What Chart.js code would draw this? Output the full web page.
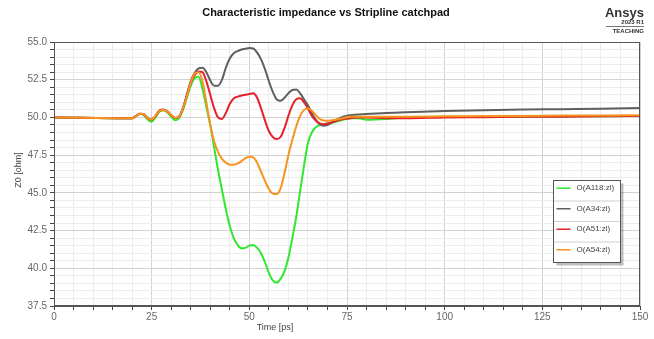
<!DOCTYPE html>
<html>
<head>
<meta charset="UTF-8">
<title>Characteristic impedance vs Stripline catchpad</title>
<script src="https://cdn.jsdelivr.net/npm/chart.js@4.4.0/dist/chart.umd.min.js"></script>
<style>
  html, body { margin: 0; padding: 0; background: #fff; }
  #wrap { width: 654px; height: 339px; position: relative; }
</style>
</head>
<body>
<div id="wrap"><canvas id="chart" width="654" height="339"></canvas></div>
<script>
// time axis [ps]
const timePs = [0, 20, 21, 22, 23, 24, 25, 26, 27, 28, 29, 30, 31, 32, 33, 34, 35,
  36, 37, 38, 39, 40, 41, 42, 43, 44, 45, 46, 47, 48, 49, 50, 51, 52, 53, 54, 55,
  56, 57, 58, 59, 60, 61, 62, 63, 64, 65, 66, 67, 68, 69, 70, 72, 74, 76, 78, 80,
  85, 90, 100, 110, 120, 130, 140, 150];

// Z0 [ohm] per trace
const zA118 = [50.0, 49.95, 50.1, 50.22, 50.15, 49.85, 49.72, 50.0, 50.4, 50.48, 50.35, 50.05, 49.82, 49.95, 50.5, 51.3, 52.1,
  52.6, 52.7, 51.9, 50.7, 49.5, 48.0, 46.5, 45.2, 43.9, 42.8, 42.0, 41.55, 41.32, 41.35, 41.5, 41.55, 41.35, 41.0, 40.4, 39.7,
  39.2, 39.05, 39.3, 39.8, 40.7, 42.0, 43.4, 45.1, 46.8, 48.3, 49.0, 49.35, 49.5, 49.55, 49.6, 49.7, 49.85, 49.95, 49.95, 49.85,
  49.9, 50.0, 50.05, 50.05, 50.05, 50.07, 50.08, 50.1];

const zA34 = [50.0, 49.95, 50.1, 50.25, 50.2, 49.95, 49.85, 50.1, 50.45, 50.52, 50.4, 50.15, 49.97, 50.05, 50.6, 51.5, 52.4,
  52.95, 53.25, 53.3, 53.0, 52.45, 52.1, 52.1, 52.5, 53.3, 53.9, 54.25, 54.4, 54.5, 54.55, 54.6, 54.57, 54.3, 53.85, 53.2, 52.4,
  51.7, 51.2, 51.1, 51.3, 51.6, 51.82, 51.85, 51.6, 51.2, 50.8, 50.3, 49.85, 49.55, 49.45, 49.5, 49.8, 50.05, 50.15, 50.2, 50.22,
  50.3, 50.35, 50.42, 50.48, 50.52, 50.55, 50.58, 50.62];

const zA51 = [50.0, 49.95, 50.1, 50.25, 50.2, 49.95, 49.85, 50.1, 50.45, 50.5, 50.4, 50.15, 49.97, 50.05, 50.6, 51.45, 52.3,
  52.8, 53.05, 53.0, 52.4, 51.5, 50.6, 50.0, 49.9, 50.3, 50.9, 51.25, 51.38, 51.45, 51.5, 51.55, 51.6, 51.3, 50.6, 49.8, 49.1,
  48.7, 48.57, 48.7, 49.3, 50.1, 50.8, 51.2, 51.27, 51.0, 50.6, 50.1, 49.8, 49.6, 49.55, 49.6, 49.75, 49.9, 49.95, 50.0, 50.0,
  49.95, 49.95, 50.0, 50.02, 50.04, 50.05, 50.07, 50.1];

const zA54 = [50.0, 49.95, 50.1, 50.25, 50.2, 49.95, 49.85, 50.1, 50.45, 50.5, 50.4, 50.15, 49.97, 50.05, 50.6, 51.4, 52.3,
  52.9, 53.0, 52.4, 51.0, 49.5, 48.4, 47.7, 47.25, 47.0, 46.87, 46.87, 46.95, 47.1, 47.3, 47.4, 47.35, 47.0, 46.4, 45.8, 45.25,
  44.95, 44.92, 45.3, 46.3, 47.5, 48.5, 49.4, 50.1, 50.5, 50.6, 50.45, 50.15, 49.9, 49.8, 49.78, 49.85, 49.95, 50.05, 50.05, 50.05,
  50.05, 50.05, 50.07, 50.1, 50.1, 50.12, 50.12, 50.15];

const seriesNames = ['O(A118:zl)', 'O(A34:zl)', 'O(A51:zl)', 'O(A54:zl)'];
const seriesColors = ['#2ee82e', '#5f5f5f', '#e4202a', '#f7931e'];
const seriesValues = [zA118, zA34, zA51, zA54];
const drawOrder = [3, 2, 1, 0];

const xTicks = [0, 25, 50, 75, 100, 125, 150];
const yTicks = [37.5, 40.0, 42.5, 45.0, 47.5, 50.0, 52.5, 55.0];

const FONT = '"Liberation Sans", Arial, sans-serif';

const datasets = seriesNames.map((name, i) => ({
  label: name,
  data: timePs.map((t, k) => ({ x: t, y: seriesValues[i][k] })),
  borderColor: seriesColors[i],
  backgroundColor: seriesColors[i],
  borderWidth: 2,
  pointRadius: 0,
  cubicInterpolationMode: 'monotone',
  order: drawOrder[i]
}));

// title, logo, axis titles and legend box
const decorations = {
  id: 'decorations',
  afterDraw(chart) {
    const ctx = chart.ctx;
    const area = chart.chartArea;
    ctx.save();
    ctx.fillStyle = '#111';
    ctx.textAlign = 'center';
    ctx.textBaseline = 'middle';
    ctx.font = 'bold 11px ' + FONT;
    ctx.fillText('Characteristic impedance vs Stripline catchpad', 326, 13);

    // logo
    ctx.textAlign = 'right';
    ctx.font = 'bold 13px ' + FONT;
    ctx.fillStyle = '#333';
    ctx.fillText('Ansys', 644, 13);
    ctx.font = 'bold 6px ' + FONT;
    ctx.fillText('2023 R1', 644, 22);
    ctx.strokeStyle = '#555';
    ctx.lineWidth = 0.8;
    ctx.beginPath();
    ctx.moveTo(606, 26.5);
    ctx.lineTo(644, 26.5);
    ctx.stroke();
    ctx.fillText('TEACHING', 644, 31);

    // axis titles
    ctx.fillStyle = '#444';
    ctx.font = '9px ' + FONT;
    ctx.textAlign = 'center';
    ctx.fillText('Time [ps]', 275, 328);
    ctx.translate(19, 170);
    ctx.rotate(-Math.PI / 2);
    ctx.fillText('Z0 [ohm]', 0, 0);
    ctx.setTransform(1, 0, 0, 1, 0, 0);

    // legend
    const lx = 553.5, ly = 180.5, lw = 67, rowH = 20.5;
    const lh = rowH * seriesNames.length;
    ctx.fillStyle = 'rgba(0,0,0,0.25)';
    ctx.fillRect(lx + 3, ly + 3, lw, lh);
    ctx.fillStyle = '#fff';
    ctx.fillRect(lx, ly, lw, lh);
    ctx.strokeStyle = '#d0d0d0';
    ctx.lineWidth = 1;
    for (let i = 1; i < seriesNames.length; i++) {
      ctx.beginPath();
      ctx.moveTo(lx, ly + rowH * i);
      ctx.lineTo(lx + lw, ly + rowH * i);
      ctx.stroke();
    }
    ctx.strokeStyle = '#555';
    ctx.strokeRect(lx, ly, lw, lh);
    ctx.font = '8px ' + FONT;
    ctx.textAlign = 'left';
    chart.data.datasets.forEach((ds, i) => {
      const cy = ly + rowH * i + rowH / 2 - 2.5;
      ctx.strokeStyle = ds.borderColor;
      ctx.lineWidth = 1.5;
      ctx.beginPath();
      ctx.moveTo(lx + 3, cy);
      ctx.lineTo(lx + 17, cy);
      ctx.stroke();
      ctx.fillStyle = '#444';
      ctx.fillText(ds.label, lx + 23, cy);
    });

    // plot frame
    ctx.strokeStyle = '#555';
    ctx.lineWidth = 1;
    ctx.strokeRect(area.left + 0.5, area.top + 0.5, area.right - area.left - 1, area.bottom - area.top - 1);
    ctx.restore();
  }
};

new Chart(document.getElementById('chart'), {
  type: 'line',
  data: { datasets },
  options: {
    responsive: false,
    animation: false,
    layout: { padding: { top: 42, right: 14, left: 0, bottom: 0 } },
    plugins: {
      legend: { display: false },
      title: { display: false },
      tooltip: { enabled: false }
    },
    scales: {
      x: {
        type: 'linear',
        min: 0,
        max: 150,
        afterFit(scale) { scale.height = 33; },
        afterBuildTicks(scale) {
          const t = [];
          for (let v = 0; v <= 150; v += 5) t.push({ value: v });
          scale.ticks = t;
        },
        ticks: {
          autoSkip: false,
          maxRotation: 0,
          padding: 1,
          color: '#666',
          font: { family: FONT, size: 10 },
          callback: (v) => xTicks.includes(v) ? String(v) : ''
        },
        grid: {
          tickLength: 4,
          tickColor: '#444',
          color: (c) => (c.tick && c.tick.value % 25 === 0) ? '#d2d2d2' : '#ececec'
        },
        border: { color: '#555' }
      },
      y: {
        type: 'linear',
        min: 37.5,
        max: 55,
        afterFit(scale) { scale.width = 54; },
        afterBuildTicks(scale) {
          const t = [];
          for (let k = 0; k <= 35; k++) t.push({ value: 37.5 + k * 0.5 });
          scale.ticks = t;
        },
        ticks: {
          autoSkip: false,
          padding: 3,
          color: '#666',
          font: { family: FONT, size: 10 },
          callback: (v) => {
            const hit = yTicks.find(y => Math.abs(y - v) < 1e-6);
            return hit !== undefined ? hit.toFixed(1) : '';
          }
        },
        grid: {
          tickLength: 4,
          tickColor: '#444',
          color: (c) => {
            if (!c.tick) return '#ececec';
            const m = Math.abs((c.tick.value - 37.5) / 2.5 - Math.round((c.tick.value - 37.5) / 2.5));
            return m < 1e-6 ? '#d2d2d2' : '#ececec';
          }
        },
        border: { color: '#555' }
      }
    }
  },
  plugins: [decorations]
});
</script>
</body>
</html>
